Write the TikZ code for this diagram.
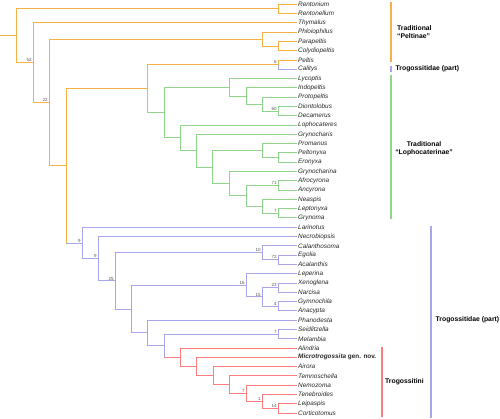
\documentclass[tikz,border=0pt]{standalone}
\usepackage{fontspec}
\setmainfont{Liberation Sans}
\definecolor{cor}{HTML}{F6B243}
\definecolor{cgr}{HTML}{8FD58A}
\definecolor{cbl}{HTML}{A6A6E8}
\definecolor{crd}{HTML}{FF7C7C}
\definecolor{csup}{HTML}{555555}
\newcommand\mkclade[6]{%
  \draw[#1] (#2 |- #3) -- (#2 |- #4);
  \draw[#5] (#2 |- #3) -- (#3);
  \draw[#6] (#2 |- #4) -- (#4);}
\begin{document}
\begin{tikzpicture}[x=1pt,y=-1pt,
  br/.style={line width=1pt,line cap=rect},
  bor/.style={br,draw=cor},
  bgr/.style={br,draw=cgr},
  bbl/.style={br,draw=cbl},
  brd/.style={br,draw=crd},
  bar/.style={line width=1.6pt},
  leaf/.style={anchor=west,inner xsep=2pt,inner ysep=0pt,font=\fontsize{6.4}{7}\selectfont\itshape,text=black!85},
  sup/.style={anchor=south east,inner sep=0.4pt,xshift=-0.8pt,yshift=0.2pt,font=\fontsize{4.5}{5}\selectfont,text=csup},
  grp/.style={font=\fontsize{6.8}{8}\selectfont\bfseries,inner sep=0pt}]
\useasboundingbox (0,0) rectangle (500,418);
% leaves
\foreach \t [count=\i] in {Rentonium, Rentonellum, Thymalus, Phloiophilus, Parapeltis, Colydiopeltis, Peltis, Calitys, Lycoptis, Indopeltis, Protopeltis, Diontolobus, Decamerus, Lophocateres, Grynocharis, Promanus, Peltonyxa, Eronyxa, Grynocharina, Afrocyrona, Ancyrona, Neaspis, Leptonyxa, Grynoma, Larinotus, Necrobiopsis, Calanthosoma, Egolia, Acalanthis, Leperina, Xenoglena, Narcisa, Gymnochila, Anacypta, Phanodesta, Seidlitzella, Melambia, Alindria, {\bfseries Microtrogossita \upshape gen. nov.}, Airora, Temnoschella, Nemozoma, Tenebroides, Leipaspis, Corticotomus}{
  \coordinate (L\i) at (296,{4.3+9.29*(\i-1)});
  \node[leaf] (T\i) at (L\i) {\t};
}
% internal nodes
\coordinate (A1) at (278,8.945);
\coordinate (A2) at (278,46.105);
\coordinate (A3) at (262,39.1375);
\coordinate (PC) at (278,64.685);
\coordinate (G1) at (278,111.135);
\coordinate (G2) at (262,104.1675);
\coordinate (G3) at (246,96.04);
\coordinate (G4) at (229,87.33);
\coordinate (G5) at (278,157.585);
\coordinate (G6) at (262,150.6175);
\coordinate (G7) at (278,185.455);
\coordinate (G8) at (278,213.325);
\coordinate (G9) at (262,206.3575);
\coordinate (G10) at (246,195.906);
\coordinate (G11) at (229,183.713);
\coordinate (G12) at (212,167.165);
\coordinate (G13) at (196,150.763);
\coordinate (G14) at (180,137.916);
\coordinate (G15) at (164,112.623);
\coordinate (O5) at (147,88.654);
\coordinate (B1) at (278,259.775);
\coordinate (B2) at (262,252.8075);
\coordinate (B3) at (278,287.645);
\coordinate (B4) at (278,306.225);
\coordinate (B5) at (262,296.935);
\coordinate (B6) at (246,285.3225);
\coordinate (B7) at (278,334.095);
\coordinate (R1) at (278,408.415);
\coordinate (R2) at (262,401.4475);
\coordinate (R3) at (246,393.319);
\coordinate (R4) at (229,384.61);
\coordinate (R5) at (213,375.61);
\coordinate (R6) at (196,366.465);
\coordinate (R7) at (180,357.2475);
\coordinate (B8) at (164,345.671);
\coordinate (B9) at (147,332.916);
\coordinate (B10) at (131,309.119);
\coordinate (B11) at (115,280.963);
\coordinate (B12) at (98,258.757);
\coordinate (B13) at (82,243.0085);
\coordinate (O6) at (66,165.831);
\coordinate (O7) at (49,102.484);
\coordinate (O8) at (33,62.682);
\coordinate (O9) at (16,35.81);
\coordinate (R0) at (0,35.81);
% branches
\mkclade{bor}{A1}{L1}{L2}{bor}{bor}
\mkclade{bor}{A2}{L5}{L6}{bor}{bor}
\mkclade{bor}{A3}{L4}{A2}{bor}{bor}
\draw[bor] (PC |- L7) -- (PC);
\draw[bor] (PC |- L7) -- (L7);
\draw[bbl] (PC) -- (PC |- L8) -- (L8);
\mkclade{bgr}{G1}{L12}{L13}{bgr}{bgr}
\mkclade{bgr}{G2}{L11}{G1}{bgr}{bgr}
\mkclade{bgr}{G3}{L10}{G2}{bgr}{bgr}
\mkclade{bgr}{G4}{L9}{G3}{bgr}{bgr}
\mkclade{bgr}{G5}{L17}{L18}{bgr}{bgr}
\mkclade{bgr}{G6}{L16}{G5}{bgr}{bgr}
\mkclade{bgr}{G7}{L20}{L21}{bgr}{bgr}
\mkclade{bgr}{G8}{L23}{L24}{bgr}{bgr}
\mkclade{bgr}{G9}{L22}{G8}{bgr}{bgr}
\mkclade{bgr}{G10}{G7}{G9}{bgr}{bgr}
\mkclade{bgr}{G11}{L19}{G10}{bgr}{bgr}
\mkclade{bgr}{G12}{G6}{G11}{bgr}{bgr}
\mkclade{bgr}{G13}{L15}{G12}{bgr}{bgr}
\mkclade{bgr}{G14}{L14}{G13}{bgr}{bgr}
\mkclade{bgr}{G15}{G4}{G14}{bgr}{bgr}
\mkclade{bor}{O5}{PC}{G15}{bor}{bgr}
\mkclade{bbl}{B1}{L28}{L29}{bbl}{bbl}
\mkclade{bbl}{B2}{L27}{B1}{bbl}{bbl}
\mkclade{bbl}{B3}{L31}{L32}{bbl}{bbl}
\mkclade{bbl}{B4}{L33}{L34}{bbl}{bbl}
\mkclade{bbl}{B5}{B3}{B4}{bbl}{bbl}
\mkclade{bbl}{B6}{L30}{B5}{bbl}{bbl}
\mkclade{bbl}{B7}{L36}{L37}{bbl}{bbl}
\mkclade{brd}{R1}{L44}{L45}{brd}{brd}
\mkclade{brd}{R2}{L43}{R1}{brd}{brd}
\mkclade{brd}{R3}{L42}{R2}{brd}{brd}
\mkclade{brd}{R4}{L41}{R3}{brd}{brd}
\mkclade{brd}{R5}{L40}{R4}{brd}{brd}
\mkclade{brd}{R6}{L39}{R5}{brd}{brd}
\mkclade{brd}{R7}{L38}{R6}{brd}{brd}
\mkclade{bbl}{B8}{B7}{R7}{bbl}{brd}
\mkclade{bbl}{B9}{L35}{B8}{bbl}{bbl}
\mkclade{bbl}{B10}{B6}{B9}{bbl}{bbl}
\mkclade{bbl}{B11}{B2}{B10}{bbl}{bbl}
\mkclade{bbl}{B12}{L26}{B11}{bbl}{bbl}
\mkclade{bbl}{B13}{L25}{B12}{bbl}{bbl}
\mkclade{bor}{O6}{O5}{B13}{bor}{bbl}
\mkclade{bor}{O7}{A3}{O6}{bor}{bor}
\mkclade{bor}{O8}{L3}{O7}{bor}{bor}
\mkclade{bor}{O9}{A1}{O8}{bor}{bor}
\draw[bor] (R0) -- (O9);
% support values
\node[sup] (s1) at (O8) {52};
\node[sup] (s2) at (O7) {22};
\node[sup] (s3) at (PC) {6};
\node[sup] (s4) at (G1) {60};
\node[sup] (s5) at (G7) {71};
\node[sup] (s6) at (G8) {7};
\node[sup] (s7) at (B13) {9};
\node[sup] (s8) at (B12) {9};
\node[sup] (s9) at (B11) {25};
\node[sup] (s10) at (B2) {10};
\node[sup] (s11) at (B1) {72};
\node[sup] (s12) at (B6) {16};
\node[sup] (s13) at (B5) {15};
\node[sup] (s14) at (B3) {23};
\node[sup] (s15) at (B4) {4};
\node[sup] (s16) at (B7) {7};
\node[sup] (s17) at (R3) {7};
\node[sup] (s18) at (R2) {1};
\node[sup] (s19) at (R1) {14};
% group bars
\coordinate (p1a) at (391,2);   \coordinate (p1b) at (391,62);
\coordinate (p2a) at (391,66);  \coordinate (p2b) at (391,72);
\coordinate (p3a) at (391,75);  \coordinate (p3b) at (391,219);
\coordinate (p4a) at (431,226); \coordinate (p4b) at (431,418);
\coordinate (p5a) at (382,347); \coordinate (p5b) at (382,417);
\draw[bar,cor] (p1a) -- (p1b);
\draw[bar,cbl] (p2a) -- (p2b);
\draw[bar,cgr] (p3a) -- (p3b);
\draw[bar,cbl] (p4a) -- (p4b);
\draw[bar,crd] (p5a) -- (p5b);
% group labels
\node[grp,anchor=west,align=left] (g1) at (397,32) {Traditional\\“Peltinae”};
\node[grp,anchor=west] (g2) at (395.5,69) {Trogossitidae (part)};
\node[grp,align=center] (g3) at (424,148.5) {Traditional\\“Lophocaterinae”};
\node[grp,anchor=west] (g4) at (435.5,320) {Trogossitidae (part)};
\node[grp,anchor=west] (g5) at (385,381.5) {Trogossitini};
\end{tikzpicture}
\end{document}
